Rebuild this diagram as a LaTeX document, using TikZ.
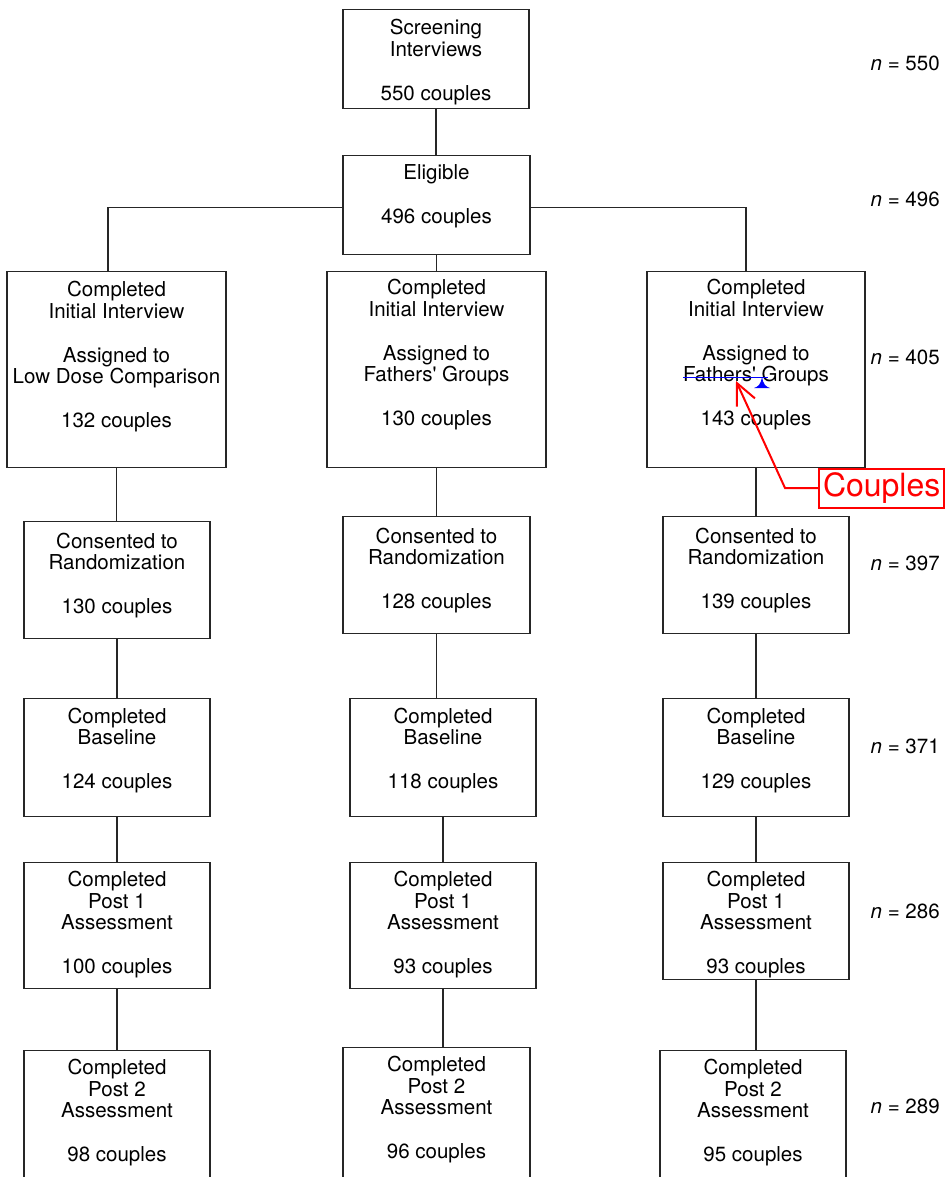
\documentclass[tikz,border=0pt]{standalone}
\usepackage{fontspec}
\setmainfont{TeX Gyre Heros}
\usetikzlibrary{arrows.meta}
\newlength{\dpx}
\setlength{\dpx}{0.75pt}
\tikzset{
    box/.style={draw=black!85, line width=0.9pt, align=center, anchor=north, inner xsep=0pt, inner ysep=0pt, font=\fontsize{15.4}{16.4}\selectfont},
    conn/.style={draw=black!85, line width=0.9pt},
    cnt/.style={anchor=east, inner sep=0pt, font=\fontsize{15.4}{16.4}\selectfont},
}
\begin{document}
\begin{tikzpicture}[x=0.75pt,y=0.75pt,yscale=-1]
        \useasboundingbox (0,0) rectangle (946,1177);
        \clip (0,0) rectangle (946,1177);
        \node [box, minimum width=186\dpx, text height=91\dpx, text depth=8\dpx] (scr) at (436,9) {Screening\\Interviews\\[16.4pt]550 couples};
        \node [box, minimum width=187\dpx, text height=68\dpx, text depth=31\dpx] (elig) at (436.5,155) {Eligible\\[16.4pt]496 couples};
        \node [box, minimum width=219\dpx, text height=156\dpx, text depth=40\dpx] (a1) at (116.5,271) {Completed\\Initial Interview\\[16.4pt]Assigned to\\Low Dose Comparison\\[16.4pt]132 couples};
        \node [box, minimum width=219\dpx, text height=154\dpx, text depth=42\dpx] (a2) at (436.5,271) {Completed\\Initial Interview\\[16.4pt]Assigned to\\Fathers\textquotesingle{} Groups\\[16.4pt]130 couples};
        \node [box, minimum width=218\dpx, text height=154\dpx, text depth=42\dpx] (a3) at (756,271) {Completed\\Initial Interview\\[16.4pt]Assigned to\\Fathers\textquotesingle{} Groups\\[16.4pt]143 couples};
        \node [box, minimum width=186\dpx, text height=92\dpx, text depth=25\dpx] (b1) at (117,521) {Consented to\\Randomization\\[16.4pt]130 couples};
        \node [box, minimum width=187\dpx, text height=92\dpx, text depth=25\dpx] (b2) at (436.5,516) {Consented to\\Randomization\\[16.4pt]128 couples};
        \node [box, minimum width=186\dpx, text height=92\dpx, text depth=25\dpx] (b3) at (756,516) {Consented to\\Randomization\\[16.4pt]139 couples};
        \node [box, minimum width=186\dpx, text height=90\dpx, text depth=28\dpx] (c1) at (117,698) {Completed\\Baseline\\[16.4pt]124 couples};
        \node [box, minimum width=186\dpx, text height=90\dpx, text depth=28\dpx] (c2) at (443,698) {Completed\\Baseline\\[16.4pt]118 couples};
        \node [box, minimum width=186\dpx, text height=90\dpx, text depth=28\dpx] (c3) at (756,698) {Completed\\Baseline\\[16.4pt]129 couples};
        \node [box, minimum width=186\dpx, text height=111\dpx, text depth=15\dpx] (d1) at (117,862) {Completed\\Post 1\\Assessment\\[16.4pt]100 couples};
        \node [box, minimum width=186\dpx, text height=111\dpx, text depth=15\dpx] (d2) at (443,862) {Completed\\Post 1\\Assessment\\[16.4pt]93 couples};
        \node [box, minimum width=186\dpx, text height=111\dpx, text depth=6\dpx] (d3) at (756,862) {Completed\\Post 1\\Assessment\\[16.4pt]93 couples};
        \node [box, minimum width=186\dpx, text height=111\dpx, text depth=50\dpx] (e1) at (117,1050) {Completed\\Post 2\\Assessment\\[16.4pt]98 couples};
        \node [box, minimum width=187\dpx, text height=111\dpx, text depth=50\dpx] (e2) at (436.5,1047) {Completed\\Post 2\\Assessment\\[16.4pt]96 couples};
        \node [box, minimum width=186\dpx, text height=111\dpx, text depth=50\dpx] (e3) at (753,1050) {Completed\\Post 2\\Assessment\\[16.4pt]95 couples};
        \draw [conn] (scr.south) -- (scr.south |- elig.north);
        \draw [conn] (elig.south) -- (elig.south |- a2.north);
        \draw [conn] ([yshift=2.5\dpx]elig.west) -| ([xshift=-8.5\dpx]a1.north);
        \draw [conn] ([yshift=2.5\dpx]elig.east) -| ([xshift=-10\dpx]a3.north);
        \foreach \u/\v in {a1/b1,a2/b2,a3/b3,b1/c1,b2/c2,b3/c3,c1/d1,c2/d2,c3/d3,d1/e1,d2/e2,d3/e3}
            \draw [conn] (\u.south) -- (\u.south |- \v.north);
        \foreach \yy/\nn in {63/550,199/496,357/405,563/397,746/371,911/286,1106/289}
            \node [cnt] (n\nn) at (940,\yy) {\textit{n} = \nn};
        \draw [blue, line width=1.3pt] (683,377.5) -- (768,377.5);
        \fill [blue] (762,377) .. controls (763,384) and (766,387) .. (770,388) -- (754,388) .. controls (758,387) and (761,384) .. (762,377) -- cycle;
        \node [draw=red, text=red, line width=1.5pt, anchor=west, inner xsep=4\dpx, inner ysep=0pt, minimum height=39\dpx, font=\fontsize{24}{28}\selectfont] (cpl) at (818,488) {Couples};
        \coordinate (bend) at (785,488);
        \coordinate (ins) at (736,381);
        \draw [red, line width=1.5pt, -{Straight Barb[length=16pt,width=15pt]}] (cpl.west) -- (bend) -- (ins);
\end{tikzpicture}
\end{document}
